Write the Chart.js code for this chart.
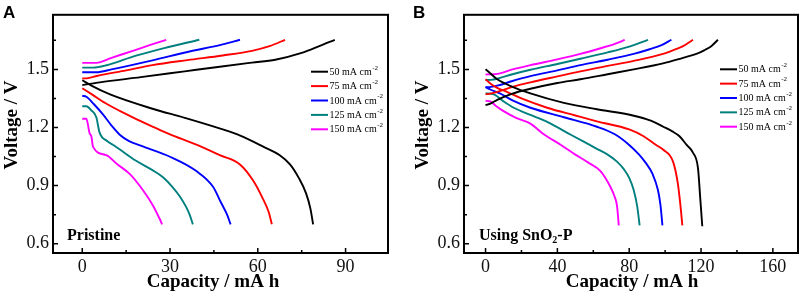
<!DOCTYPE html>
<html><head><meta charset="utf-8">
<script src="https://cdn.jsdelivr.net/npm/chart.js@4.4.1/dist/chart.umd.min.js"></script>
<style>
html,body{margin:0;padding:0;background:#fff;}
body{width:803px;height:299px;position:relative;overflow:hidden;}
canvas{position:absolute;top:0;}
#cA{left:0;} #cB{left:411px;}
</style></head><body>
<canvas id="cA" width="400" height="299"></canvas>
<canvas id="cB" width="392" height="299"></canvas>
<script>
// ---------- data ----------
const currents = [50, 75, 100, 125, 150];          // mA cm-2
const colors   = ['#000000', '#ff0000', '#0000ff', '#007f7f', '#ff00ff'];
const yTicks   = [0.6, 0.9, 1.2, 1.5];
const yMinor   = [0.75, 1.05, 1.35, 1.65];
const xTicksA  = [0, 30, 60, 90];
const xMinorA  = [15, 45, 75];
const xTicksB  = [0, 40, 80, 120, 160];
const xMinorB  = [20, 60, 100, 140];

// Panel A (Pristine): [capacity / mA h, voltage / V]
const a50c  = [[0,1.419],[6,1.433],[20,1.46],[35,1.49],[47,1.514],[58,1.535],[66,1.55],[75,1.585],[81,1.62],[86.3,1.653]];
const a50d  = [[0,1.444],[3.3,1.415],[9.5,1.371],[24,1.297],[35,1.25],[48,1.19],[54,1.158],[62,1.10],[67.5,1.057],[71,1.01],[74,0.94],[76.5,0.86],[78,0.78],[78.9,0.70]];
const a75c  = [[0,1.453],[2,1.455],[5,1.466],[15,1.495],[24,1.522],[36,1.548],[48,1.572],[58,1.596],[64,1.62],[69.3,1.653]];
const a75d  = [[0,1.403],[3.7,1.367],[8,1.325],[12.8,1.286],[24,1.204],[30,1.165],[39,1.111],[47,1.057],[54,1.008],[58.4,0.926],[61.8,0.83],[63.8,0.76],[64.8,0.70]];
const a100c = [[0,1.485],[4.8,1.485],[10,1.50],[24,1.547],[36,1.59],[48,1.629],[53.9,1.653]];
const a100d = [[0,1.364],[1.4,1.359],[4,1.32],[7,1.269],[10,1.21],[12.8,1.163],[16,1.13],[20,1.106],[30,1.049],[39,0.975],[44.7,0.894],[47.5,0.81],[49.5,0.75],[50.7,0.70]];
const a125c = [[0,1.509],[3.7,1.509],[8,1.52],[18.4,1.571],[28,1.61],[40,1.653]];
const a125d = [[0,1.31],[1.4,1.31],[3,1.29],[4.8,1.253],[5.9,1.175],[8.5,1.13],[11,1.106],[18.4,1.028],[24,0.98],[27.6,0.943],[31,0.89],[33.3,0.845],[35.5,0.79],[36.7,0.75],[37.8,0.70]];
const a150c = [[0,1.534],[4.8,1.534],[10,1.56],[17.3,1.596],[23,1.625],[28.7,1.653]];
const a150d = [[0,1.245],[1.4,1.245],[2.5,1.171],[3.1,1.155],[3.7,1.10],[8.2,1.057],[12,1.01],[16.3,0.959],[20.7,0.877],[24.2,0.796],[26.4,0.73],[27.3,0.70]];

// Panel B (Using SnO2-P)
const b50c  = [[0,1.315],[3,1.325],[6.5,1.343],[15,1.375],[25,1.40],[40,1.43],[52.8,1.449],[68,1.475],[82.5,1.50],[98.8,1.531],[110,1.56],[117.4,1.58],[122,1.60],[125.7,1.62],[129.4,1.653]];
const b50d  = [[0,1.501],[2,1.485],[6.5,1.449],[15,1.41],[25,1.376],[43.6,1.327],[62,1.294],[82,1.262],[92,1.235],[99,1.204],[104,1.18],[108,1.155],[112,1.11],[115.5,1.07],[118.3,0.99],[119.6,0.83],[120.7,0.69]];
const b75c  = [[0,1.372],[2,1.374],[6.5,1.384],[15,1.41],[25,1.433],[40,1.464],[52.8,1.49],[68,1.518],[82.5,1.544],[98.8,1.58],[106,1.605],[110,1.62],[115.5,1.653]];
const b75d  = [[0,1.449],[3,1.425],[6.5,1.405],[11.9,1.384],[20,1.35],[34.3,1.302],[50,1.262],[62,1.232],[80,1.19],[88,1.155],[95,1.11],[99,1.085],[104.4,1.024],[107.1,0.91],[108.5,0.80],[109.6,0.695]];
const b100c = [[0,1.408],[3,1.41],[6.5,1.416],[15,1.44],[25,1.465],[40,1.495],[52.8,1.522],[68,1.55],[82.5,1.58],[91.4,1.604],[98,1.625],[103.5,1.653]];
const b100d = [[0,1.408],[3,1.395],[8,1.376],[15,1.34],[25,1.302],[43.6,1.253],[62,1.204],[72,1.165],[80,1.11],[85.5,1.06],[89,1.02],[93,0.96],[96,0.877],[97.4,0.80],[98.5,0.695]];
const b125c = [[0,1.445],[3,1.446],[6.5,1.452],[15,1.475],[25,1.498],[40,1.528],[52.8,1.555],[68,1.588],[80,1.618],[90.5,1.653]];
const b125d = [[0,1.376],[4.6,1.371],[10,1.335],[15.7,1.302],[25,1.265],[34.3,1.229],[48,1.16],[58,1.11],[62,1.09],[68,1.06],[73.2,1.024],[77,0.985],[80,0.94],[82.5,0.877],[84.5,0.79],[85.8,0.695]];
const b150c = [[0,1.474],[3,1.475],[6.5,1.477],[15,1.50],[25,1.522],[40,1.552],[52.8,1.58],[65,1.612],[72,1.632],[77.5,1.652]];
const b150d = [[0,1.338],[2.6,1.335],[6,1.31],[9.8,1.286],[17,1.25],[25,1.22],[32.4,1.165],[42,1.11],[50,1.06],[57,1.02],[64,0.975],[69.5,0.894],[72,0.84],[73.2,0.796],[74.2,0.695]];

// ---------- helpers ----------
const SERIF = '"Liberation Serif", "DejaVu Serif", serif';
function makeSets(charges, discharges) {
  const out = [];
  currents.forEach((c, i) => {
    [charges[i], discharges[i]].forEach((arr, k) => {
      out.push({
        label: c + ' mA cm-2 ' + (k ? 'discharge' : 'charge'),
        data: arr.map(p => ({x: p[0], y: p[1]})),
        borderColor: colors[i], backgroundColor: colors[i],
        borderWidth: 1.9, pointRadius: 0, showLine: true,
        cubicInterpolationMode: 'monotone', fill: false
      });
    });
  });
  return out;
}

const decor = {
  id: 'decor',
  afterDraw(chart, args, o) {
    const ctx = chart.ctx;
    const {left, right, top, bottom} = chart.chartArea;
    const xs = chart.scales.x, ys = chart.scales.y;
    ctx.save();
    // frame
    ctx.strokeStyle = '#000'; ctx.lineWidth = 2;
    ctx.strokeRect(left, top, right - left, bottom - top);
    // inward ticks
    ctx.lineWidth = 1.5;
    ctx.beginPath();
    o.xMajor.forEach(v => { const p = xs.getPixelForValue(v); ctx.moveTo(p, bottom); ctx.lineTo(p, bottom - 5); });
    o.xMinor.forEach(v => { const p = xs.getPixelForValue(v); ctx.moveTo(p, bottom); ctx.lineTo(p, bottom - 3); });
    yTicks.forEach(v => { const p = ys.getPixelForValue(v); ctx.moveTo(left, p); ctx.lineTo(left + 5, p); });
    yMinor.forEach(v => { const p = ys.getPixelForValue(v); ctx.moveTo(left, p); ctx.lineTo(left + 3, p); });
    ctx.stroke();
    // panel letter
    ctx.fillStyle = '#000';
    ctx.font = 'bold 17px "Liberation Sans", Arial, sans-serif';
    ctx.textAlign = 'left'; ctx.textBaseline = 'alphabetic';
    ctx.fillText(o.letter, o.letterX, 18);
    // sample label
    let x = o.labelX;
    o.label.forEach(seg => {
      ctx.font = seg.sub ? 'bold 10px ' + SERIF : 'bold 16px ' + SERIF;
      ctx.fillText(seg.t, x, seg.sub ? 243 : 240);
      x += ctx.measureText(seg.t).width;
    });
    // legend
    currents.forEach((c, i) => {
      const yy = o.legY + i * o.legDy;
      ctx.strokeStyle = colors[i]; ctx.lineWidth = 2;
      ctx.beginPath(); ctx.moveTo(o.legX, yy); ctx.lineTo(o.legX + 17, yy); ctx.stroke();
      ctx.fillStyle = '#000';
      ctx.font = '10px ' + SERIF; ctx.textBaseline = 'middle';
      const t = c + ' mA cm';
      ctx.fillText(t, o.legX + 18.5, yy + 0.5);
      const w = ctx.measureText(t).width;
      ctx.font = '7px ' + SERIF;
      ctx.fillText('-2', o.legX + 18.5 + w + 0.5, yy - 4);
    });
    // axis titles
    ctx.fillStyle = '#000';
    ctx.font = 'bold 19px ' + SERIF;
    ctx.textAlign = 'center'; ctx.textBaseline = 'alphabetic';
    ctx.fillText('Capacity / mA h', o.xTitleX, 287);
    ctx.save();
    ctx.translate(16.5, 125);
    ctx.rotate(-Math.PI / 2);
    ctx.fillText('Voltage / V', 0, 0);
    ctx.restore();
    ctx.restore();
  }
};

function makeChart(id, sets, xMin, xMax, xMajor, xMinor, rightPad, deco) {
  return new Chart(document.getElementById(id), {
    type: 'scatter',
    data: {datasets: sets},
    plugins: [decor],
    options: {
      responsive: false, animation: false, devicePixelRatio: 1,
      layout: {padding: {left: 0, top: 2, right: rightPad, bottom: 0}},
      plugins: {legend: {display: false}, tooltip: {enabled: false},
        decor: Object.assign({xMajor, xMinor}, deco)},
      scales: {
        x: {
          type: 'linear', min: xMin, max: xMax,
          grid: {display: false, drawTicks: false}, border: {display: false},
          afterBuildTicks: s => { s.ticks = xMajor.map(v => ({value: v})); },
          afterFit: s => { s.height = 46; },
          ticks: {padding: 3, color: '#111', font: {family: SERIF, size: 18}, maxRotation: 0,
            callback: v => String(v)}
        },
        y: {
          type: 'linear', min: 0.552, max: 1.782,
          grid: {display: false, drawTicks: false}, border: {display: false},
          afterBuildTicks: s => { s.ticks = yTicks.map(v => ({value: v})); },
          afterFit: s => { s.width = 53; },
          ticks: {padding: 4, color: '#111', font: {family: SERIF, size: 18},
            callback: v => Number(v).toFixed(1)}
        }
      }
    }
  });
}

makeChart('cA',
  makeSets([a50c, a75c, a100c, a125c, a150c], [a50d, a75d, a100d, a125d, a150d]),
  -10, 104.5, xTicksA, xMinorA, 12,
  {letter: 'A', letterX: 3, label: [{t: 'Pristine'}], labelX: 67,
   legX: 311, legY: 71.7, legDy: 14.4, xTitleX: 213});

makeChart('cB',
  makeSets([b50c, b75c, b100c, b125c, b150c], [b50d, b75d, b100d, b125d, b150d]),
  -12, 174, xTicksB, xMinorB, 5,
  {letter: 'B', letterX: 2, label: [{t: 'Using SnO'}, {t: '2', sub: true}, {t: '-P'}], labelX: 68,
   legX: 309, legY: 69.3, legDy: 14.35, xTitleX: 221});
</script>
</body></html>
